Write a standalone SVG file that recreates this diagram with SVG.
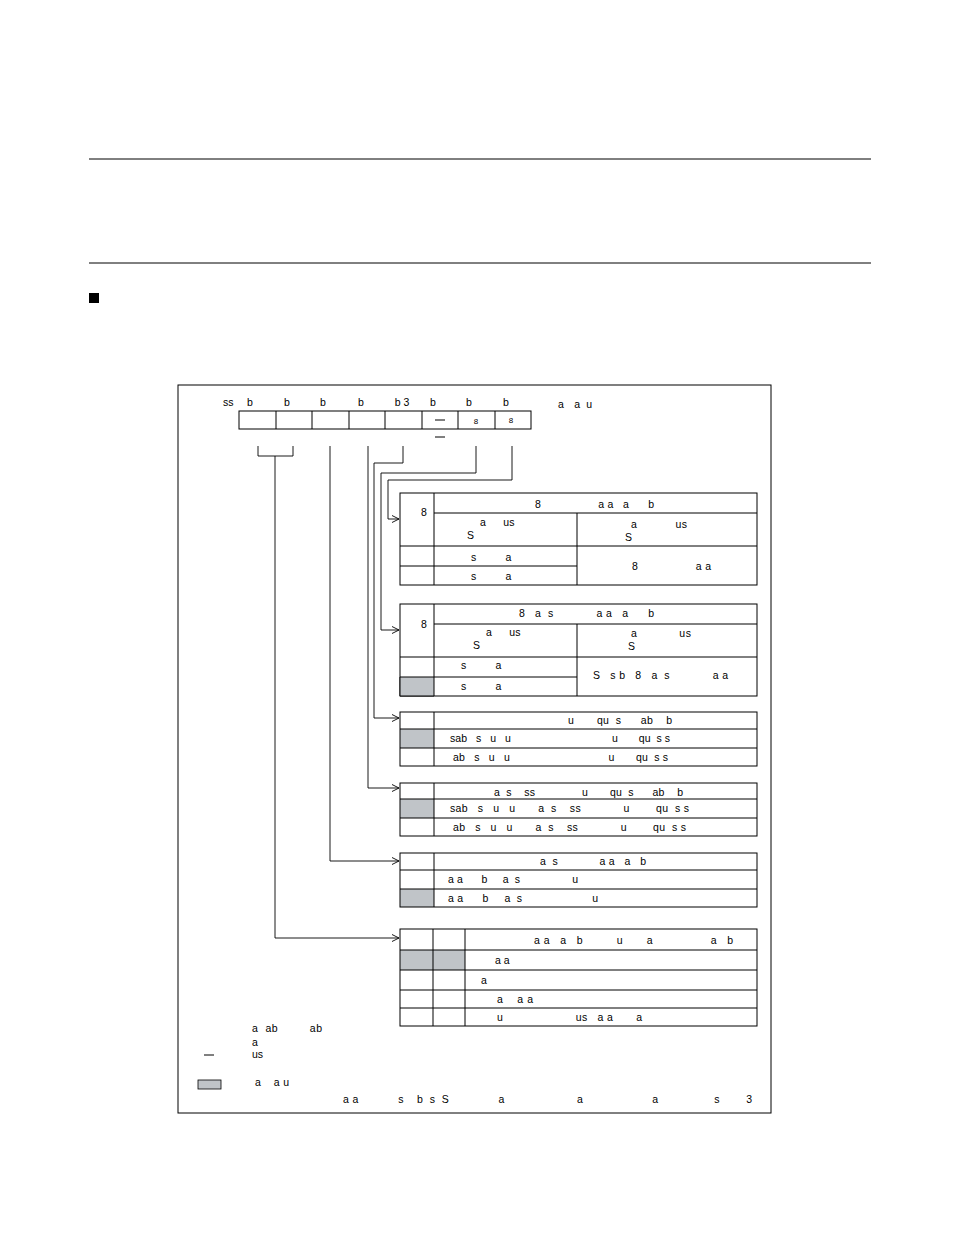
<svg xmlns="http://www.w3.org/2000/svg" width="954" height="1235" viewBox="0 0 954 1235" xml:space="preserve">
<style>
text{font-family:"Liberation Sans",Arial,sans-serif;font-size:10.5px;fill:#000;white-space:pre}
.m{text-anchor:middle}
.s{font-size:8px}
.b{fill:none;stroke:#000;stroke-width:1}
.g{fill:#c0c4c8;stroke:none}
.c{fill:none;stroke:#000;stroke-width:0.9}
</style>
<defs><marker id="ar" markerWidth="8" markerHeight="8" refX="7" refY="4" orient="auto" markerUnits="userSpaceOnUse"><path d="M0,0.5 L7,4 L0,7.5" fill="none" stroke="#000" stroke-width="0.9"/></marker></defs>
<rect width="954" height="1235" fill="#fff"/>
<line x1="89" y1="159" x2="871" y2="159" stroke="#000"/>
<line x1="89" y1="263" x2="871" y2="263" stroke="#000"/>
<rect x="89" y="293" width="10" height="10" fill="#000"/>
<rect x="178" y="385" width="593" height="728" class="b" stroke-width="1.2"/>
<g id="register">
<text x="223" y="406">ss</text>
<text x="250" y="406" class="m">b</text><text x="287" y="406" class="m">b</text><text x="323" y="406" class="m">b</text><text x="361" y="406" class="m">b</text><text x="402" y="406" class="m">b 3</text><text x="433" y="406" class="m">b</text><text x="469" y="406" class="m">b</text><text x="506" y="406" class="m">b</text>
<text x="558" y="408" textLength="34" lengthAdjust="spacing">a  a u</text>
<rect x="239" y="411" width="292" height="18" class="b"/>
<path d="M276,411V429M312,411V429M349,411V429M385,411V429M422,411V429M458,411V429M495,411V429" class="b"/>
<path d="M435,420H445M435,437H445" stroke="#000"/>
<text x="476" y="424" class="m s">8</text><text x="511" y="423" class="m s">8</text>
</g>
<g id="connectors" class="c">
<path d="M258,446V456H293V446M275,456V938H399" marker-end="url(#ar)"/>
<path d="M330,446V861H399" marker-end="url(#ar)"/>
<path d="M368,446V788H399" marker-end="url(#ar)"/>
<path d="M403,446V463H374V718H399" marker-end="url(#ar)"/>
<path d="M476,446V473H381V630H399" marker-end="url(#ar)"/>
<path d="M512,446V480H388V519H399" marker-end="url(#ar)"/>
</g>
<g id="t1">
<rect x="400" y="493" width="357" height="92" class="b"/>
<path d="M434,493V585M434,513H757M577,513V585M400,546H757M400,566H577" class="b"/>
<text x="424" y="516" class="m">8</text>
<text x="535" y="508" textLength="119" lengthAdjust="spacing">8                  a a   a      b</text>
<text x="480" y="526">a      us</text><text x="467" y="539">S</text>
<text x="631" y="528" textLength="56" lengthAdjust="spacing">a            us</text><text x="625" y="541">S</text>
<text x="471" y="561">s          a</text><text x="471" y="580">s          a</text>
<text x="632" y="570" textLength="79" lengthAdjust="spacing">8                  a a</text>
</g>
<g id="t2">
<rect x="400" y="604" width="357" height="92" class="b"/>
<rect x="400" y="677" width="34" height="19" class="g"/>
<path d="M434,604V696M434,624H757M577,624V696M400,657H757M400,677H577M400,677V696H434" class="b"/>
<text x="424" y="628" class="m">8</text>
<text x="519" y="617" textLength="135" lengthAdjust="spacing">8   a  s             a a   a      b</text>
<text x="486" y="636">a      us</text><text x="473" y="649">S</text>
<text x="631" y="637" textLength="60" lengthAdjust="spacing">a            us</text><text x="628" y="650">S</text>
<text x="461" y="669">s          a</text><text x="461" y="690">s          a</text>
<text x="593" y="679" textLength="135" lengthAdjust="spacing">S   s b   8   a  s             a a</text>
</g>
<g id="t3">
<rect x="400" y="729" width="34" height="19" class="g"/>
<rect x="400" y="712" width="357" height="54" class="b"/>
<path d="M434,712V766M400,729H757M400,748H757" class="b"/>
<text x="568" y="724" textLength="104" lengthAdjust="spacing">u       qu  s      ab    b</text>
<text x="450" y="742" textLength="220" lengthAdjust="spacing">sab   s   u   u                                  u       qu  s s</text>
<text x="453" y="761" textLength="215" lengthAdjust="spacing">ab   s   u   u                                u       qu  s s</text>
</g>
<g id="t4">
<rect x="400" y="799" width="34" height="19" class="g"/>
<rect x="400" y="783" width="357" height="53" class="b"/>
<path d="M434,783V836M400,799H757M400,818H757" class="b"/>
<text x="494" y="796" textLength="189" lengthAdjust="spacing">a  s    ss               u       qu  s      ab    b</text>
<text x="450" y="812" textLength="239" lengthAdjust="spacing">sab   s   u   u       a  s    ss             u        qu  s s</text>
<text x="453" y="831" textLength="233" lengthAdjust="spacing">ab   s   u   u       a  s    ss             u        qu  s s</text>
</g>
<g id="t5">
<rect x="400" y="889" width="34" height="18" class="g"/>
<rect x="400" y="853" width="357" height="54" class="b"/>
<path d="M434,853V907M400,870H757M400,889H757" class="b"/>
<text x="540" y="865" textLength="106" lengthAdjust="spacing">a  s             a a   a   b</text>
<text x="448" y="883" textLength="130" lengthAdjust="spacing">a a      b     a  s                 u</text>
<text x="448" y="902" textLength="150" lengthAdjust="spacing">a a      b     a  s                      u</text>
</g>
<g id="t6">
<rect x="400" y="950" width="65" height="20" class="g"/>
<rect x="400" y="929" width="357" height="97" class="b"/>
<path d="M433,929V1026M465,929V1026M400,950H757M400,970H757M400,990H757M400,1008H757" class="b"/>
<text x="534" y="944" textLength="199" lengthAdjust="spacing">a a   a   b          u       a                 a   b</text>
<text x="495" y="964">a a</text>
<text x="481" y="984">a</text>
<text x="497" y="1003" textLength="36" lengthAdjust="spacing">a    a a</text>
<text x="497" y="1021" textLength="145" lengthAdjust="spacing">u                      us   a a       a</text>
</g>
<g id="legend">
<text x="252" y="1032" textLength="70" lengthAdjust="spacing">a  ab         ab</text>
<text x="252" y="1046">a</text>
<line x1="204" y1="1055" x2="214" y2="1055" stroke="#000"/>
<text x="252" y="1058">us</text>
<rect x="198" y="1080" width="23" height="9" fill="#c0c4c8" stroke="#000" stroke-width="0.8"/>
<text x="255" y="1086" textLength="34" lengthAdjust="spacing">a    a u</text>
<text x="343" y="1103" textLength="409" lengthAdjust="spacing">a a            s    b  s  S               a                      a                     a                 s        3</text>
</g>
</svg>
